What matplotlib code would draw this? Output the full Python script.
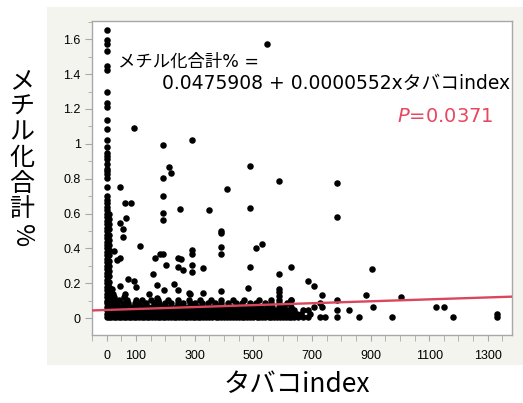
import numpy as np
import matplotlib
matplotlib.use("Agg")
import matplotlib.pyplot as plt
from matplotlib.patches import Rectangle

plt.rcParams['font.family'] = ['Noto Sans CJK JP', 'DejaVu Sans']

# regression from the chart
intercept = 0.0475908
slope = 0.0000552
p_value = "0.0371"

# non-smokers column (x = 0)
col0_y = [1.655, 1.593, 1.570, 1.535, 1.446, 1.421, 1.297, 1.236, 1.211, 1.135,
          1.084, 1.021, 0.983, 0.950, 0.931, 0.912, 0.884, 0.855, 0.846, 0.827,
          0.807, 0.754, 0.703, 0.68, 0.66, 0.64, 0.62, 0.60, 0.58, 0.56, 0.54,
          0.52, 0.50, 0.48, 0.46, 0.44, 0.42, 0.40, 0.38, 0.36, 0.34, 0.32, 0.30,
          0.28, 0.26, 0.24, 0.22, 0.20, 0.18, 0.16, 0.14, 0.12, 0.10]
col1_x = 7
col1_y = [0.60, 0.57, 0.54, 0.51, 0.48, 0.45, 0.42, 0.39, 0.36, 0.33, 0.30,
          0.27, 0.24, 0.21, 0.18, 0.15, 0.12, 0.09]

# dense band of low values, by row
row_y = [0.005, 0.025, 0.045, 0.065, 0.085, 0.105]
row0_x = [0, 8, 16, 25, 33, 42, 50, 58, 67, 75, 84, 92, 100, 110, 120, 128, 137,
          146, 155, 165, 174, 183, 192, 200, 210, 220, 229, 238, 247, 256, 266,
          275, 284, 293, 300, 312, 320, 330, 340, 350, 360, 372, 380, 390, 400,
          410, 420, 430, 440, 452, 460, 470, 480, 490, 500, 512, 520, 530, 540,
          552, 560, 572, 580, 590, 600, 612, 622, 630, 640, 652, 668, 686, 726,
          746, 785, 860, 974, 1182, 1330]
row1_x = [0, 10, 20, 30, 40, 52, 60, 70, 80, 90, 100, 112, 122, 130, 140, 150,
          162, 170, 180, 190, 200, 212, 224, 232, 240, 250, 262, 270, 280, 290,
          302, 310, 322, 332, 342, 350, 362, 370, 382, 390, 402, 412, 420, 432,
          442, 450, 462, 472, 482, 492, 502, 510, 522, 532, 542, 550, 562, 570,
          582, 590, 602, 614, 620, 632, 642, 650, 662, 695, 1330]
row2_x = [0, 12, 24, 35, 47, 60, 72, 85, 96, 108, 118, 132, 145, 158, 170, 182,
          195, 205, 218, 228, 242, 255, 268, 280, 290, 305, 318, 328, 340, 355,
          368, 378, 392, 405, 418, 428, 440, 455, 468, 480, 492, 505, 518, 530,
          545, 558, 570, 585, 598, 610, 625, 640, 668, 686, 785, 825]
row3_x = [0, 15, 30, 45, 62, 78, 90, 105, 125, 140, 155, 172, 188, 200, 215,
          235, 250, 265, 280, 295, 312, 330, 348, 362, 378, 392, 410, 425, 445,
          462, 480, 495, 512, 528, 548, 565, 588, 605, 628, 707, 736, 909, 1122,
          1152]
row4_x = [0, 18, 35, 55, 72, 95, 115, 135, 160, 178, 198, 220, 245, 262, 285,
          300, 325, 345, 370, 390, 415, 440, 462, 488, 510, 540, 560, 588, 615,
          726]
row5_x = [5, 25, 42, 70, 100, 120, 150, 175, 210, 245, 280, 320, 355, 389, 430,
          470, 520, 560, 588, 628, 785]

# scattered points above the band
pts_x = [548, 93, 193, 292, 211, 218, 193, 489, 588, 44, 64, 83, 191, 191, 191,
         251, 410, 489, 350, 785, 785, 44, 65, 55, 55, 114, 25, 35, 47, 165, 182,
         191, 202, 245, 254, 245, 262, 291, 291, 291, 291, 158, 74, 94, 100, 44,
         63, 59, 173, 194, 173, 231, 243, 283, 145, 17, 20, 25, 390, 390, 390,
         390, 509, 529, 330, 489, 588, 628, 686, 707, 483, 588, 588, 588, 390,
         628, 330, 280, 905, 736, 884, 1003]
pts_y = [1.573, 1.091, 0.996, 1.023, 0.867, 0.834, 0.806, 0.873, 0.785, 0.754,
         0.663, 0.663, 0.703, 0.604, 0.564, 0.625, 0.741, 0.633, 0.623, 0.773,
         0.583, 0.545, 0.573, 0.510, 0.465, 0.413, 0.383, 0.335, 0.347, 0.347,
         0.366, 0.366, 0.303, 0.347, 0.339, 0.293, 0.278, 0.394, 0.370, 0.303,
         0.265, 0.253, 0.225, 0.213, 0.179, 0.183, 0.141, 0.122, 0.193, 0.164,
         0.114, 0.194, 0.164, 0.141, 0.141, 0.170, 0.140, 0.120, 0.503, 0.491,
         0.411, 0.366, 0.404, 0.423, 0.291, 0.293, 0.251, 0.293, 0.213, 0.183,
         0.175, 0.170, 0.150, 0.130, 0.156, 0.107, 0.145, 0.145, 0.284, 0.131,
         0.133, 0.124]

x_ticks_major = [0, 100, 300, 500, 700, 900, 1100, 1300]

fig = plt.figure(figsize=(5.23, 4.03), dpi=100)
bg = Rectangle((47 / 523, 38 / 403), 476 / 523, 358 / 403,
               transform=fig.transFigure, facecolor='#f4f4ef',
               edgecolor='none', zorder=-5)
fig.add_artist(bg)
ax = fig.add_axes([92 / 523, 68 / 403, 420 / 523, 314.3 / 403])
ax.set_zorder(2)
ax.set_facecolor('white')

dot = dict(s=22, color='black', linewidths=0, zorder=3)
ax.scatter([0] * len(col0_y), col0_y, **dot)
ax.scatter([col1_x] * len(col1_y), col1_y, **dot)
for yv, xs in zip(row_y, [row0_x, row1_x, row2_x, row3_x, row4_x, row5_x]):
    ax.scatter(xs, [yv] * len(xs), **dot)
ax.scatter(pts_x, pts_y, **dot)

xlim = (-49.5, 1382.5)
xl = np.array(xlim)
ax.plot(xl, intercept + slope * xl, color='#d9475c', lw=1.7, zorder=4)

ax.set_xlim(*xlim)
ax.set_ylim(-0.096, 1.706)

ax.set_xticks(x_ticks_major)
ax.set_xticklabels([str(v) for v in x_ticks_major])
ax.set_xticks(np.arange(-50, 1400, 50), minor=True)
ax.set_yticks(np.arange(0, 1.61, 0.2))
ax.set_yticklabels(['0', '0.2', '0.4', '0.6', '0.8', '1', '1.2', '1.4', '1.6'])
ax.set_yticks(np.arange(0, 1.71, 0.1), minor=True)

for s in ax.spines.values():
    s.set_color('#a8a8a8')
    s.set_linewidth(1.0)
ax.tick_params(axis='both', which='both', colors='#a8a8a8', labelcolor='black',
               labelsize=9)
ax.tick_params(axis='x', which='major', length=4, pad=7)
ax.tick_params(axis='x', which='minor', length=4)
ax.tick_params(axis='y', which='major', length=5, pad=3)
ax.tick_params(axis='y', which='minor', length=3)
for lab in ax.get_xticklabels() + ax.get_yticklabels():
    lab.set_family(['Liberation Sans', 'DejaVu Sans'])

# annotations
latin = ['DejaVu Sans', 'Noto Sans CJK JP']
fig.text(118 / 523, 1 - 62 / 403, 'メチル化合計% =', fontsize=12.5,
         ha='left', va='center', family=latin, zorder=5)
fig.text(510 / 523, 1 - 83 / 403, f'{intercept} + {slope:.7f}xタバコindex',
         fontsize=13.5, ha='right', va='center', family=latin, zorder=5)
fig.text(494 / 523, 1 - 116 / 403, r'$\it{P}$' + f'={p_value}', fontsize=14,
         ha='right', va='center', color='#e8475f', family=latin, zorder=5)

# axis labels
fig.text(297 / 523, 1 - 385 / 403, 'タバコindex', fontsize=19,
         ha='center', va='center')
for i, ch in enumerate('メチル化合計'):
    fig.text(22 / 523, 1 - (81 + 25.7 * i) / 403, ch, fontsize=18,
             ha='center', va='center')
fig.text(22 / 523, 1 - (81 + 25.7 * 6) / 403, '%', fontsize=18,
         ha='center', va='center', rotation=-90)

fig.savefig('out.png', dpi=100)
